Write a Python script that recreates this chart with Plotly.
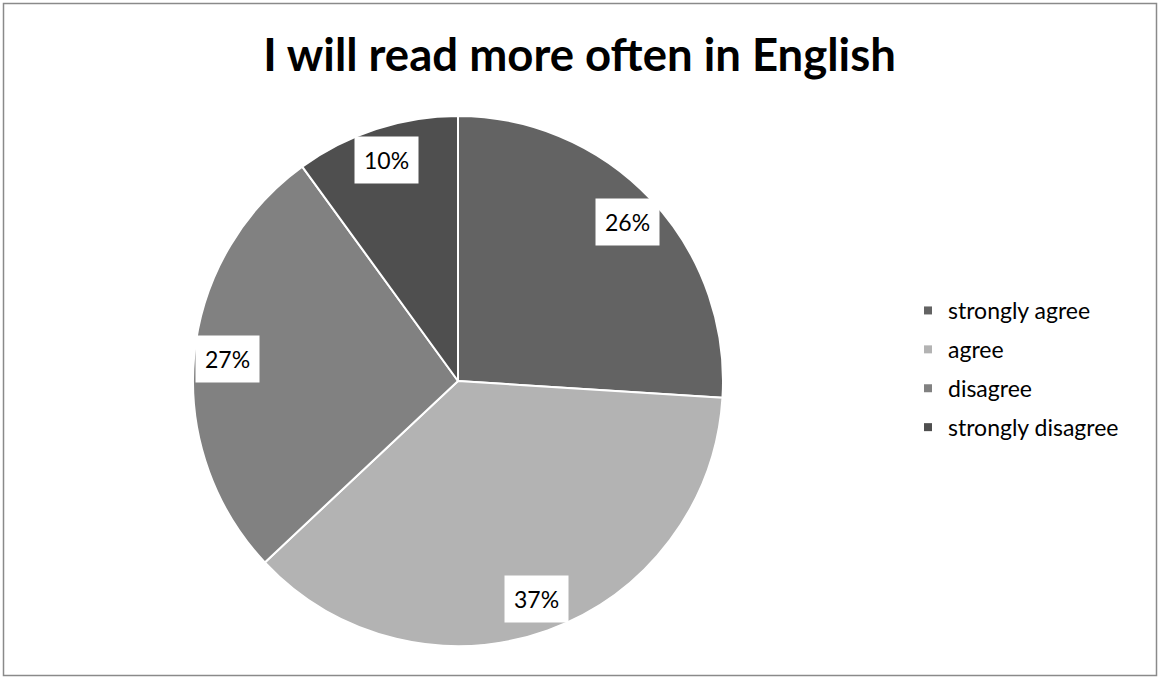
import math
import plotly.graph_objects as go

title = "I will read more often in English"
categories = ["strongly agree", "agree", "disagree", "strongly disagree"]
values = [26, 37, 27, 10]
colors = ["#636363", "#b3b3b3", "#818181", "#4f4f4f"]

W, H = 1159, 678
font = "Lato"

# Pie geometry in paper coordinates
cx, cy, r = 458 / W, 1 - 381 / H, 265
dom_x = [(458 - r) / W, (458 + r) / W]
dom_y = [(H - 381 - r) / H, (H - 381 + r) / H]

fig = go.Figure()
fig.add_trace(go.Pie(
    labels=categories, values=values, sort=False, direction="clockwise",
    rotation=0, textinfo="none", hoverinfo="label+percent",
    marker=dict(colors=colors, line=dict(color="white", width=2)),
    domain=dict(x=dom_x, y=dom_y), showlegend=False,
))

# Percentage labels in white boxes, placed at each slice's mid-angle
total = sum(values)
cum = 0
for v in values:
    mid = (cum + v / 2) / total * 2 * math.pi
    cum += v
    dx = math.sin(mid) * r * 0.875
    dy = math.cos(mid) * r * 0.875
    fig.add_annotation(
        x=cx + dx / W, y=cy + dy / H, xref="paper", yref="paper",
        xanchor="center", yanchor="middle",
        text=f"{round(v / total * 100)}%", showarrow=False,
        font=dict(family=font, size=23, color="#000"),
        bgcolor="white", borderpad=9,
    )

# Legend entries as marker-only traces
for name, c in zip(categories, colors):
    fig.add_trace(go.Scatter(
        x=[None], y=[None], mode="markers", name=name, legendgroup=name,
        marker=dict(symbol="square", size=8, color=c),
    ))

fig.update_layout(
    width=W, height=H, margin=dict(l=0, r=0, t=0, b=0),
    paper_bgcolor="white", plot_bgcolor="white",
    title=dict(text=f"<b>{title}</b>", x=0.5, xanchor="center",
               y=1 - 55 / H, yanchor="middle",
               font=dict(family=font, size=45.5, color="#000")),
    xaxis=dict(visible=False), yaxis=dict(visible=False),
    legend=dict(x=908 / W, y=1 - 289 / H, xanchor="left", yanchor="top",
                font=dict(family=font, size=23, color="#000"),
                tracegroupgap=6, itemwidth=30, bgcolor="rgba(0,0,0,0)"),
    shapes=[dict(type="rect", xref="paper", yref="paper",
                 x0=3.5 / W, x1=1156.5 / W, y0=1 - 675.5 / H, y1=1 - 3.5 / H,
                 line=dict(color="#8a8a8a", width=1.5))],
)

fig.write_html("out.html")
